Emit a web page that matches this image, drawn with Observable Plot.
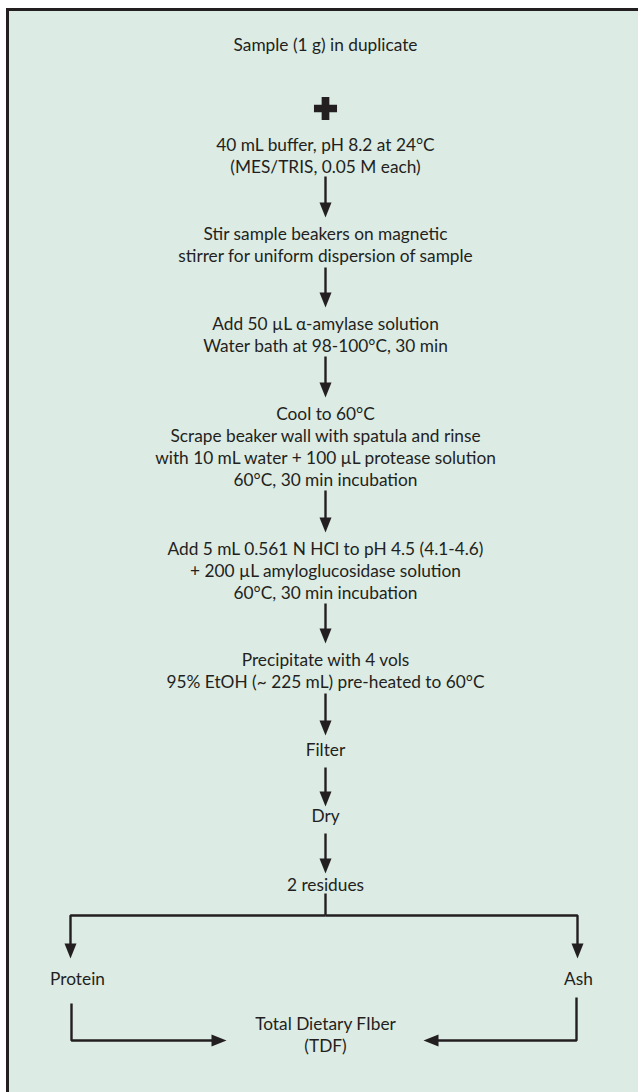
<!DOCTYPE html>
<html>
<head>
<meta charset="utf-8">
<script src="https://cdn.jsdelivr.net/npm/d3@7"></script>
<script src="https://cdn.jsdelivr.net/npm/@observablehq/plot@0.6"></script>
<style>
  html, body { margin: 0; padding: 0; background: #ffffff; overflow: hidden; }
  #chart svg { display: block; }
</style>
</head>
<body>
<div id="chart"></div>
<script>
// ---- Flowchart content ----
const stepText = [
  "Sample (1 g) in duplicate",
  "40 mL buffer, pH 8.2 at 24°C\n(MES/TRIS, 0.05 M each)",
  "Stir sample beakers on magnetic\nstirrer for uniform dispersion of sample",
  "Add 50 µL α-amylase solution\nWater bath at 98-100°C, 30 min",
  "Cool to 60°C\nScrape beaker wall with spatula and rinse\nwith 10 mL water + 100 µL protease solution\n60°C, 30 min incubation",
  "Add 5 mL 0.561 N HCl to pH 4.5 (4.1-4.6)\n+ 200 µL amyloglucosidase solution\n60°C, 30 min incubation",
  "Precipitate with 4 vols\n95% EtOH (~ 225 mL) pre-heated to 60°C",
  "Filter",
  "Dry",
  "2 residues",
  "Protein",
  "Ash",
  "Total Dietary FIber\n(TDF)"
];
// node centres in chart units (x across, y down)
const stepX = [325, 325, 325, 325, 325, 325, 325, 325, 325, 325, 77, 578, 325];
const stepY = [43, 154, 243, 333.5, 445.5, 569, 669, 748, 814, 883, 977, 977, 1033.5];

// "+" between sample and buffer
const plusX = [325];
const plusY = [108];

// connectors: polyline points, and whether it ends with an arrowhead
const connectorPaths = [
  [[325, 176], [325, 217]],
  [[325, 267], [325, 307]],
  [[325, 356], [325, 397]],
  [[325, 490], [325, 532]],
  [[325, 603], [325, 643]],
  [[325, 693], [325, 735]],
  [[325, 767], [325, 806]],
  [[325, 833], [325, 873]],
  [[325, 893], [325, 915]],
  [[325, 915], [70, 915], [70, 958]],
  [[325, 915], [577, 915], [577, 958]],
  [[71, 1003], [71, 1040], [226, 1040]],
  [[576, 997], [576, 1040], [423, 1040]]
];
const connectorHead = [true, true, true, true, true, true, true, true, false, true, true, true, true];

// ---- build tables ----
const ink = "#231f20";
const W = 638, H = 1092;
const HEAD_LEN = 15, HEAD_HALF = 6;

const steps = stepText.map((t, i) => ({text: t, x: stepX[i], y: stepY[i]}));
const plus = plusX.map((x, i) => ({x, y: plusY[i]}));

const lineRows = [];
const heads = [];
connectorPaths.forEach((pts, id) => {
  const n = pts.length;
  const [xa, ya] = pts[n - 2];
  const [xb, yb] = pts[n - 1];
  const dx = Math.sign(xb - xa), dy = Math.sign(yb - ya);
  pts.forEach(([x, y], k) => {
    let px = x, py = y;
    if (k === n - 1 && connectorHead[id]) { px = x - dx * HEAD_LEN * 0.6; py = y - dy * HEAD_LEN * 0.6; }
    lineRows.push({id, x: px, y: py});
  });
  if (connectorHead[id]) {
    heads.push({x: xb, y: yb, dir: dx > 0 ? "right" : dx < 0 ? "left" : "down"});
  }
});

function headSymbol(dir) {
  return {
    draw(ctx, size) {
      const k = Math.sqrt(size / Math.PI) / 7.5;
      const L = HEAD_LEN * k, h = HEAD_HALF * k;
      ctx.moveTo(0, 0);
      if (dir === "down") { ctx.lineTo(-h, -L); ctx.lineTo(h, -L); }
      else if (dir === "right") { ctx.lineTo(-L, -h); ctx.lineTo(-L, h); }
      else { ctx.lineTo(L, -h); ctx.lineTo(L, h); }
      ctx.closePath();
    }
  };
}

const fontFamily = "Lato, 'Open Sans', sans-serif";
const FS = 17.3;

const chart = Plot.plot({
  width: W,
  height: H,
  margin: 0,
  x: {domain: [0, W], range: [0, W], axis: null},
  y: {domain: [0, H], range: [0, H], axis: null},
  style: {background: "transparent", fontFamily},
  marks: [
    Plot.rect([0], {x1: 7.5, y1: 9.5, x2: W + 20, y2: H + 20, fill: "#dcebe4", stroke: ink, strokeWidth: 3}),
    Plot.line(lineRows, {x: "x", y: "y", z: "id", stroke: ink, strokeWidth: 2.4, strokeLinejoin: "miter", strokeLinecap: "butt", curve: "linear"}),
    ...["down", "right", "left"].map(d =>
      Plot.dot(heads.filter(h => h.dir === d), {x: "x", y: "y", r: 7.5, symbol: headSymbol(d), fill: ink, stroke: "none"})
    ),
    Plot.dot(plus, {x: "x", y: "y", r: 9.7, symbol: "cross", fill: ink, stroke: "none"}),
    Plot.text(steps, {x: "x", y: "y", text: "text", fill: ink, fontSize: FS, lineHeight: 22 / FS, textAnchor: "middle", lineAnchor: "middle", fontFamily})
  ]
});

document.getElementById("chart").appendChild(chart);
</script>
</body>
</html>
